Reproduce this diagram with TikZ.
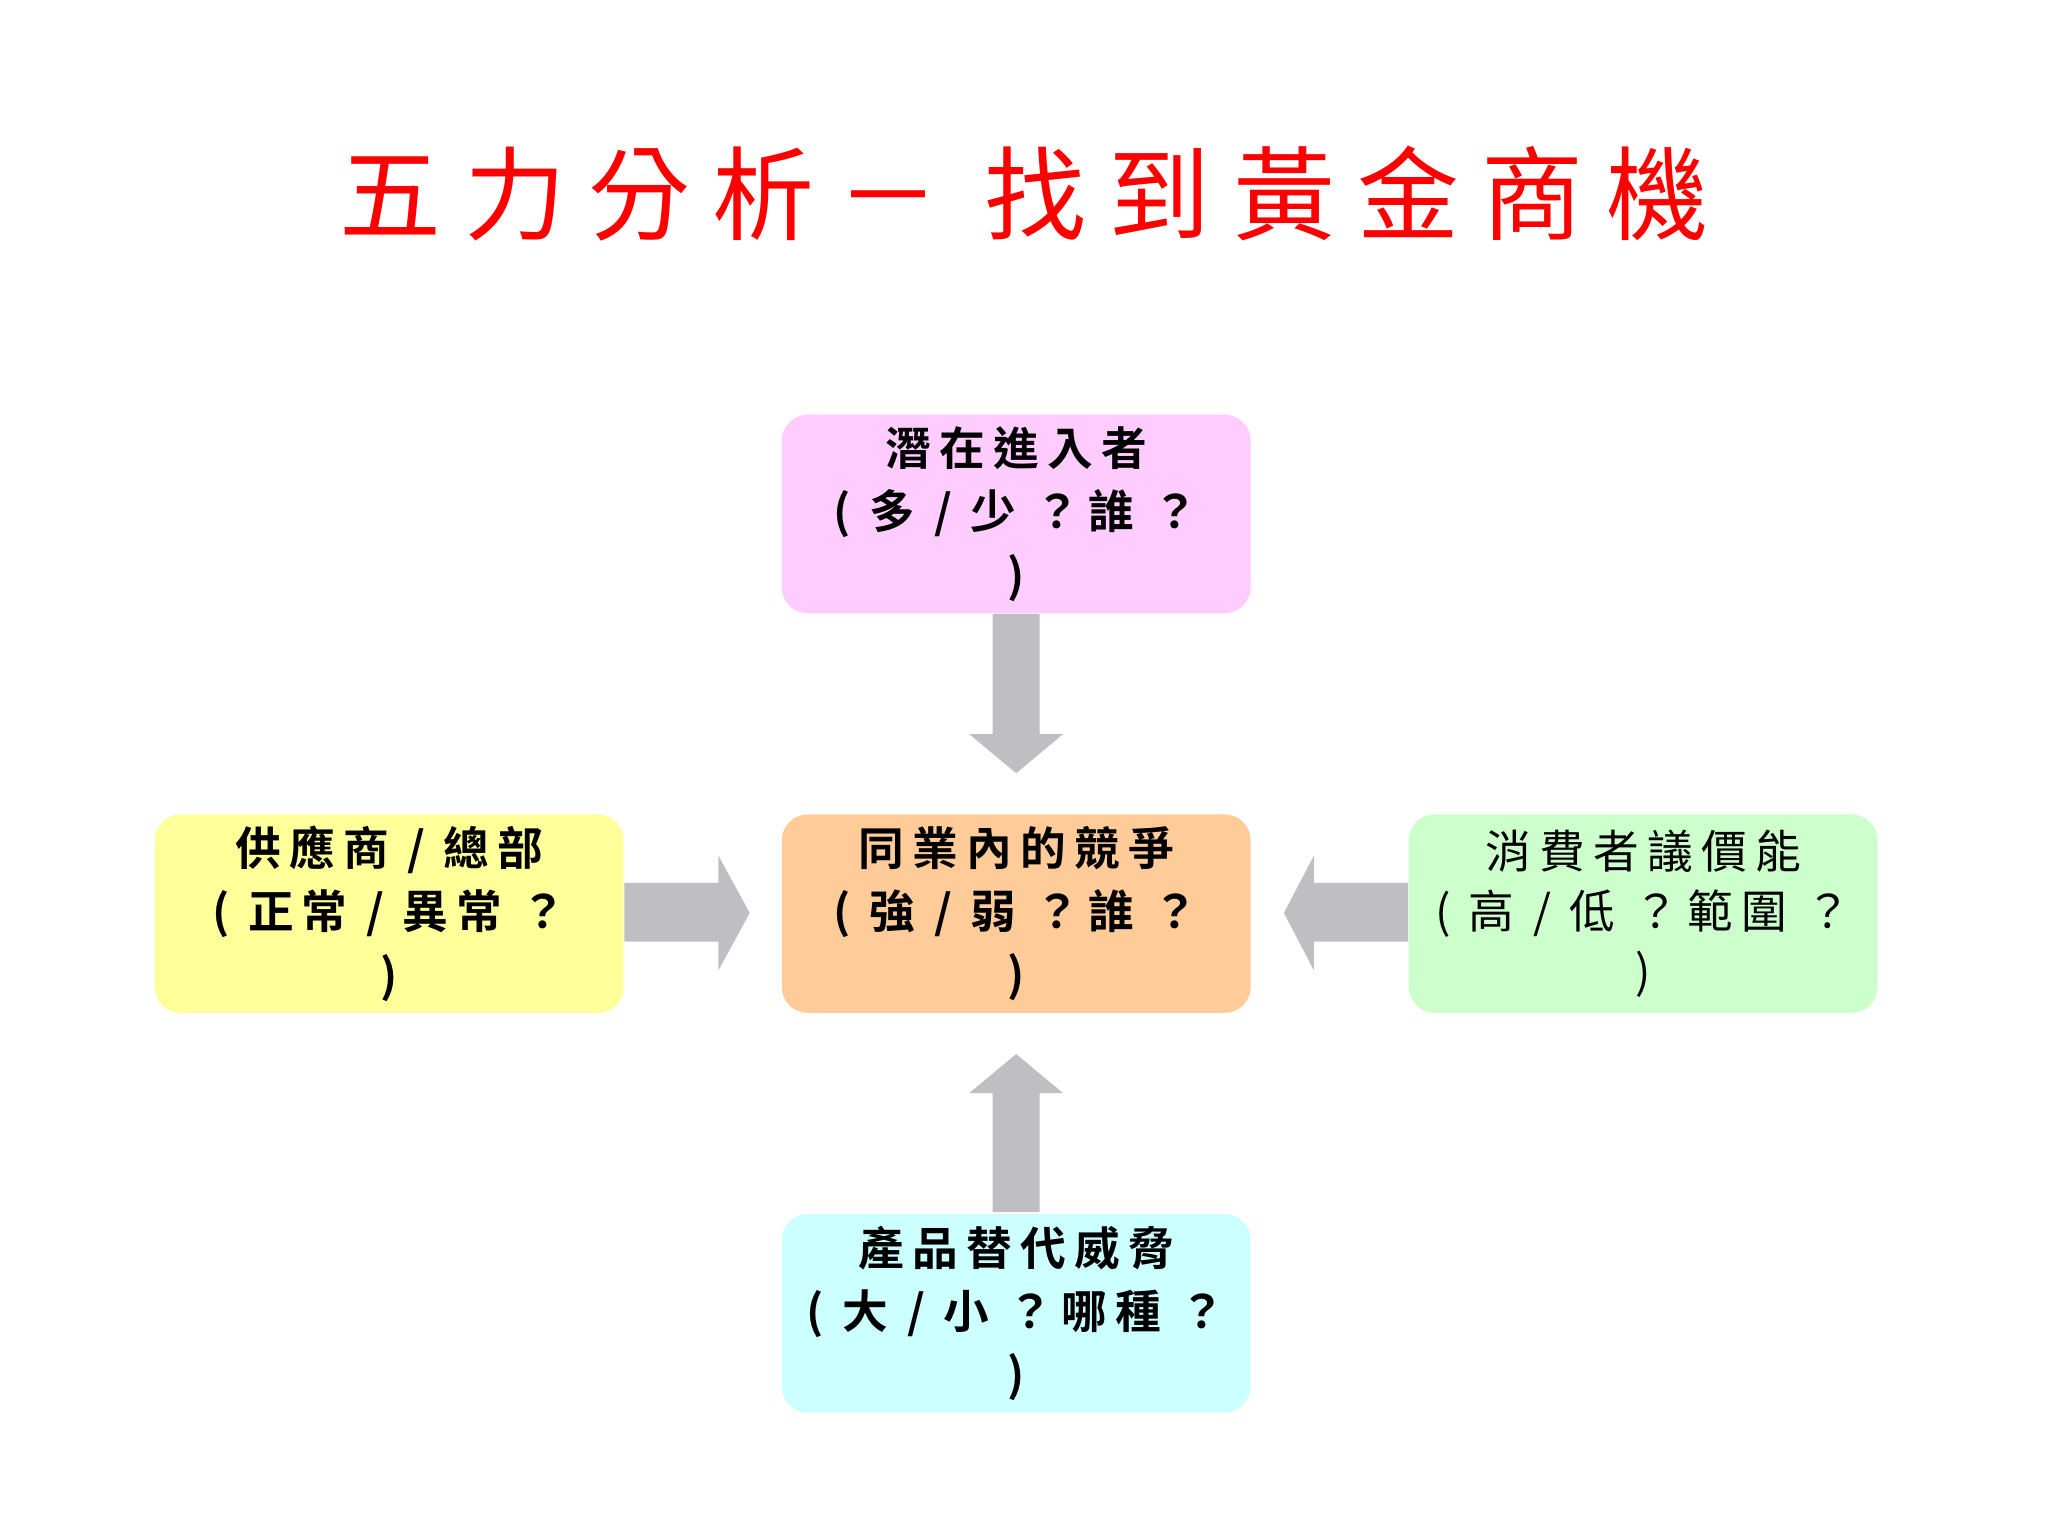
\documentclass[tikz,border=0pt]{standalone}
\usepackage{fontspec}
\setmainfont{Noto Sans CJK TC}
\newfontfamily\cjkb[LetterSpace=18]{Noto Sans CJK TC Bold}
\newfontfamily\cjkr[LetterSpace=18]{Noto Sans CJK TC}
\newfontfamily\cjkt[LetterSpace=22]{Noto Sans CJK TC}
\definecolor{arr}{HTML}{BFBEC2}
\definecolor{tred}{HTML}{FF0000}
\begin{document}
\begin{tikzpicture}[x=0.01306cm,y=-0.01306cm,
  box/.style={rounded corners=0.26cm,minimum width=359*0.01306cm,minimum height=152*0.01306cm,anchor=north west,inner sep=0pt},
  lbl/.style={align=center,font=\cjkb\fontsize{13pt}{18pt}\selectfont},
  arrow/.style={fill=arr,draw=none}]
\fill[white] (0,0) rectangle (1568,1176);
\node[font=\cjkt\fontsize{29pt}{32pt}\selectfont,text=tred] (title) at (784,148) {五力分析－ 找到黃金商機};
\node[box,fill={rgb,255:red,255;green,204;blue,255}] (top) at (598,317) {};
\node[box,fill={rgb,255:red,255;green,204;blue,153}] (mid) at (598,623) {};
\node[box,fill={rgb,255:red,255;green,255;blue,153}] (lft) at (118,623) {};
\node[box,fill={rgb,255:red,204;green,255;blue,204}] (rgt) at (1078,623) {};
\node[box,fill={rgb,255:red,204;green,255;blue,255}] (bot) at (598,929) {};
\node[lbl] at (top.center) {潛在進入者\\( 多 / 少 ？誰 ？\\)};
\node[lbl] at (mid.center) {同業內的競爭\\( 強 / 弱 ？誰 ？\\)};
\node[lbl] at (lft.center) {供應商 / 總部\\( 正常 / 異常 ？\\)};
\node[lbl,font=\cjkr\fontsize{13pt}{17pt}\selectfont] at (rgt.center) {消費者議價能\\( 高 / 低 ？範圍 ？\\)};
\node[lbl] at (bot.center) {產品替代威脅\\( 大 / 小 ？哪種 ？\\)};
% arrows
\fill[arrow] (760,470) -- (796,470) -- (796,562) -- (814,562) -- (778,592) -- (742,562) -- (760,562) -- cycle;
\fill[arrow] (760,928) -- (796,928) -- (796,837) -- (814,837) -- (778,807) -- (742,837) -- (760,837) -- cycle;
\fill[arrow] (478,676) -- (550,676) -- (550,655) -- (574,699) -- (550,743) -- (550,721) -- (478,721) -- cycle;
\fill[arrow] (1078,676) -- (1006,676) -- (1006,655) -- (983,699) -- (1006,743) -- (1006,721) -- (1078,721) -- cycle;
\end{tikzpicture}
\end{document}
